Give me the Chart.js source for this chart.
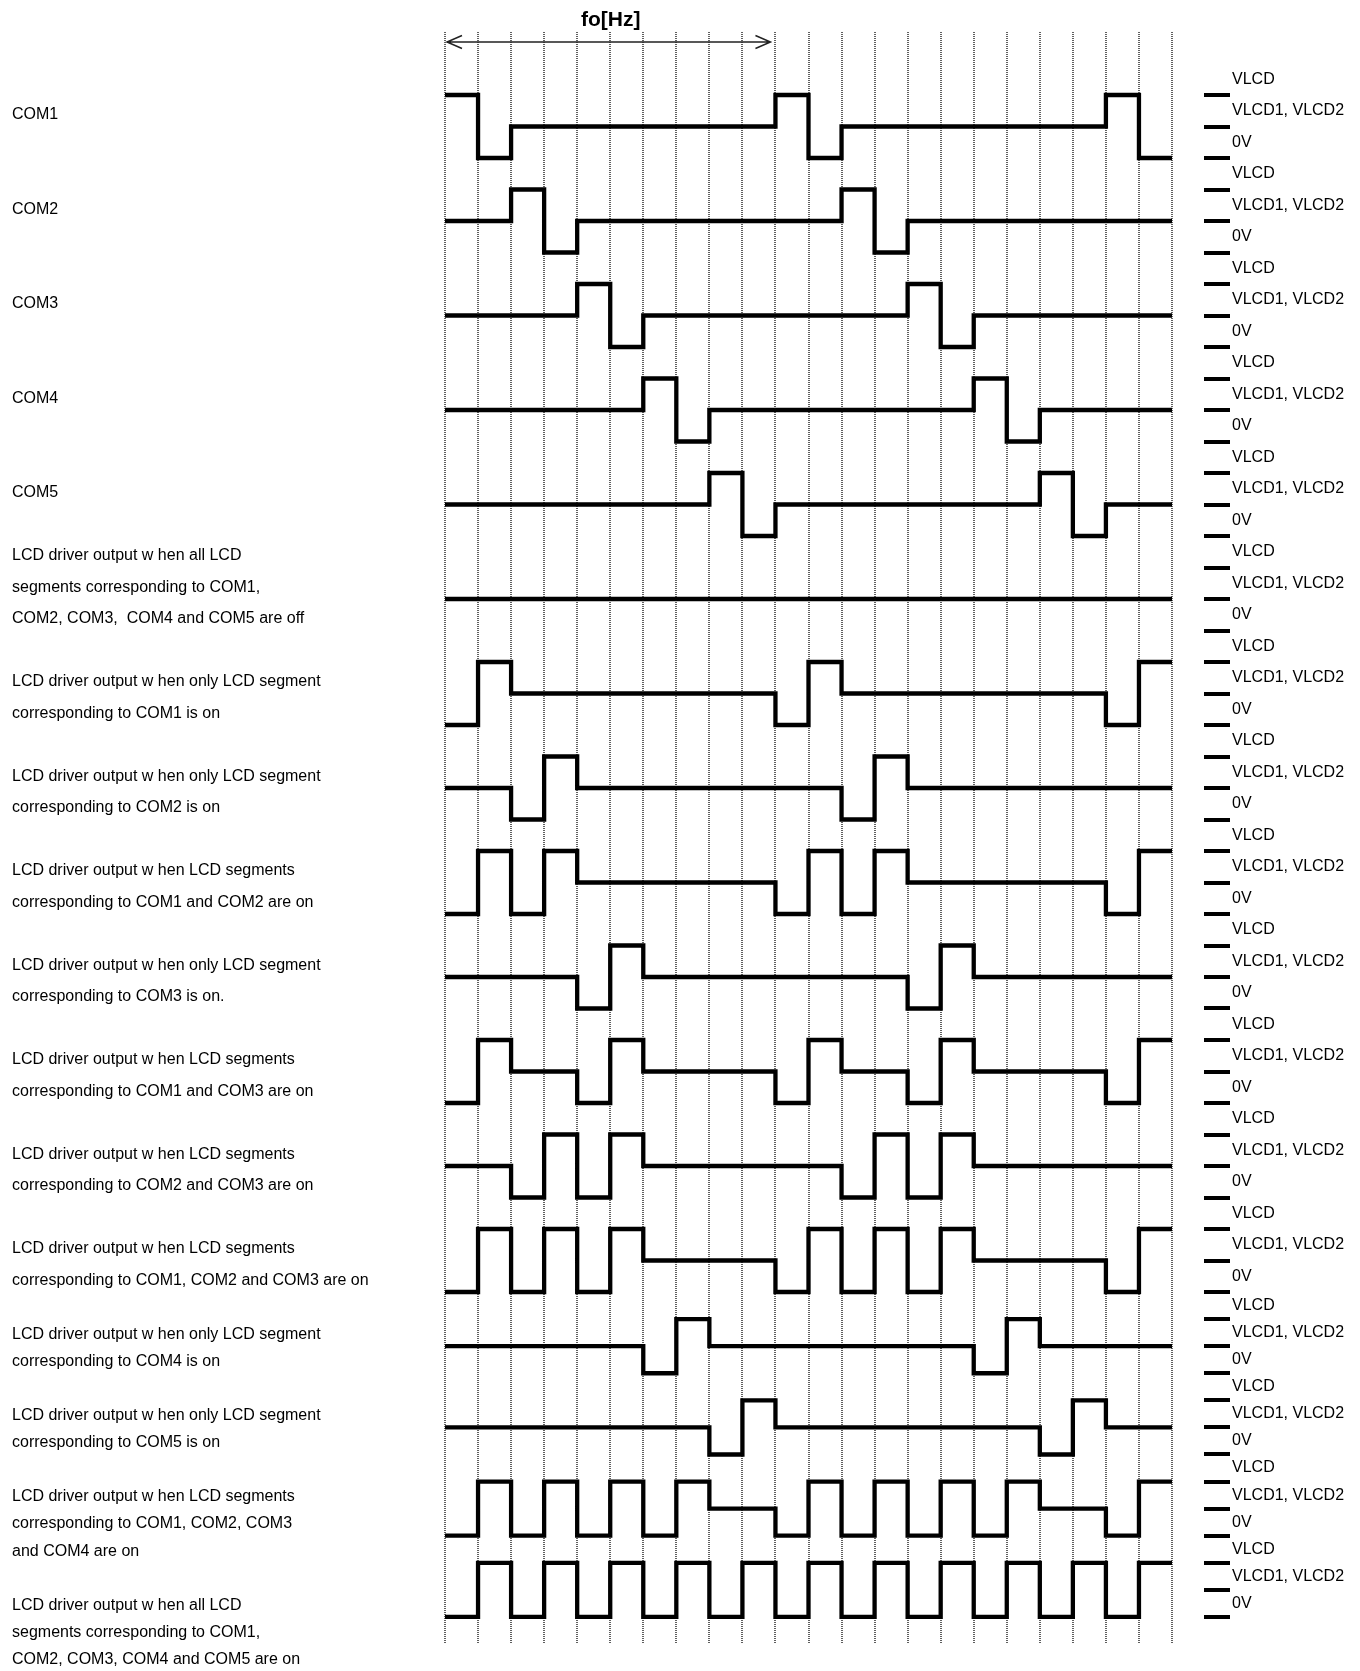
<!DOCTYPE html>
<html>
<head>
<meta charset="utf-8">
<script src="https://cdn.jsdelivr.net/npm/chart.js@4.4.1/dist/chart.umd.min.js"></script>
<style>
  html, body { margin: 0; padding: 0; background: #fff; }
  #wrap { position: relative; width: 1360px; height: 1671px; }
  canvas { position: absolute; left: 0; }
</style>
</head>
<body>
<div id="wrap">
  <canvas id="upper" width="1360" height="1296" style="top:0"></canvas>
  <canvas id="lower" width="1360" height="375" style="top:1296px"></canvas>
</div>
<script>
// one value per half period: 2 = VLCD, 1 = VLCD1/VLCD2, 0 = 0V
const com1 = [2,0,1,1,1,1,1,1,1,1,2,0,1,1,1,1,1,1,1,1,2,0];
const com2 = [1,1,2,0,1,1,1,1,1,1,1,1,2,0,1,1,1,1,1,1,1,1];
const com3 = [1,1,1,1,2,0,1,1,1,1,1,1,1,1,2,0,1,1,1,1,1,1];
const com4 = [1,1,1,1,1,1,2,0,1,1,1,1,1,1,1,1,2,0,1,1,1,1];
const com5 = [1,1,1,1,1,1,1,1,2,0,1,1,1,1,1,1,1,1,2,0,1,1];
const segOff     = [1,1,1,1,1,1,1,1,1,1,1,1,1,1,1,1,1,1,1,1,1,1];
const segCom1    = [0,2,1,1,1,1,1,1,1,1,0,2,1,1,1,1,1,1,1,1,0,2];
const segCom2    = [1,1,0,2,1,1,1,1,1,1,1,1,0,2,1,1,1,1,1,1,1,1];
const segCom12   = [0,2,0,2,1,1,1,1,1,1,0,2,0,2,1,1,1,1,1,1,0,2];
const segCom3    = [1,1,1,1,0,2,1,1,1,1,1,1,1,1,0,2,1,1,1,1,1,1];
const segCom13   = [0,2,1,1,0,2,1,1,1,1,0,2,1,1,0,2,1,1,1,1,0,2];
const segCom23   = [1,1,0,2,0,2,1,1,1,1,1,1,0,2,0,2,1,1,1,1,1,1];
const segCom123  = [0,2,0,2,0,2,1,1,1,1,0,2,0,2,0,2,1,1,1,1,0,2];
const segCom4    = [1,1,1,1,1,1,0,2,1,1,1,1,1,1,1,1,0,2,1,1,1,1];
const segCom5    = [1,1,1,1,1,1,1,1,0,2,1,1,1,1,1,1,1,1,0,2,1,1];
const segCom1234 = [0,2,0,2,0,2,0,2,1,1,0,2,0,2,0,2,0,2,1,1,0,2];
const segAll     = [0,2,0,2,0,2,0,2,0,2,0,2,0,2,0,2,0,2,0,2,0,2];

const levelNames = ['0V', 'VLCD1, VLCD2', 'VLCD'];
const titleText = 'fo[Hz]';
const frameHalfPeriods = 10;

const waves = [com1, com2, com3, com4, com5, segOff, segCom1, segCom2, segCom12,
  segCom3, segCom13, segCom23, segCom123, segCom4, segCom5, segCom1234, segAll];

const rowText = [
  ['COM1'], ['COM2'], ['COM3'], ['COM4'], ['COM5'],
  ['LCD driver output w hen all LCD', 'segments corresponding to COM1,', 'COM2, COM3,  COM4 and COM5 are off'],
  ['LCD driver output w hen only LCD segment', 'corresponding to COM1 is on'],
  ['LCD driver output w hen only LCD segment', 'corresponding to COM2 is on'],
  ['LCD driver output w hen LCD segments', 'corresponding to COM1 and COM2 are on'],
  ['LCD driver output w hen only LCD segment', 'corresponding to COM3 is on.'],
  ['LCD driver output w hen LCD segments', 'corresponding to COM1 and COM3 are on'],
  ['LCD driver output w hen LCD segments', 'corresponding to COM2 and COM3 are on'],
  ['LCD driver output w hen LCD segments', 'corresponding to COM1, COM2 and COM3 are on'],
  ['LCD driver output w hen only LCD segment', 'corresponding to COM4 is on'],
  ['LCD driver output w hen only LCD segment', 'corresponding to COM5 is on'],
  ['LCD driver output w hen LCD segments', 'corresponding to COM1, COM2, COM3', 'and COM4 are on'],
  ['LCD driver output w hen all LCD', 'segments corresponding to COM1,', 'COM2, COM3, COM4 and COM5 are on']
];
// first level slot of each text block (text sits in the cell under it)
const textSlot = [0, 3, 6, 9, 12, 14, 18, 21, 24, 27, 30, 33, 36, 39, 42, 45, 49];

// layout (pixels)
const plotLeft = 445, lastLine = 1172, axisLeft = 1204;
const gridTop = 32, gridBottom = 1643, splitY = 1296, firstSlotY = 95;
const upperStep = 31.5, lowerStep = 27.08;
const splitRow = 13;
const FONT = '"Liberation Sans", Arial, sans-serif';

const nLines = waves[0].length;
const xMax = nLines * (axisLeft - plotLeft) / (lastLine - plotLeft);
const slot38Y = firstSlotY + 38 * upperStep;

Chart.defaults.font.family = FONT;

function range(a, b) { const r = []; for (let i = a; i <= b; i++) r.push(i); return r; }

function rowDataset(r) {
  const w = waves[r].concat([waves[r][waves[r].length - 1]]);
  return {
    data: w.map((lv, i) => ({ x: i, y: 3 * r + 2 - lv })),
    stepped: true,
    borderColor: '#000',
    borderWidth: 4.3,
    borderJoinStyle: 'miter',
    pointRadius: 0,
    fill: false
  };
}

function textPlugin(rows) {
  return {
    id: 'rowText',
    afterDraw(chart) {
      const ctx = chart.ctx, ys = chart.scales.y;
      ctx.save();
      ctx.font = '16px ' + FONT;
      ctx.fillStyle = '#000';
      ctx.textAlign = 'left';
      ctx.textBaseline = 'middle';
      rows.forEach(r => {
        rowText[r].forEach((line, i) => {
          ctx.fillText(line, 12, ys.getPixelForValue(textSlot[r] + i + 1) - 11.7);
        });
      });
      ctx.restore();
    }
  };
}

const periodPlugin = {
  id: 'period',
  afterDraw(chart) {
    const ctx = chart.ctx, xs = chart.scales.x, top = chart.chartArea.top;
    const x0 = xs.getPixelForValue(0) + 2, x1 = xs.getPixelForValue(frameHalfPeriods) - 5;
    const y = top + 10;
    ctx.save();
    ctx.strokeStyle = '#222';
    ctx.lineWidth = 1.5;
    ctx.beginPath();
    ctx.moveTo(x0, y); ctx.lineTo(x1, y);
    ctx.moveTo(x0 + 15, y - 6.5); ctx.lineTo(x0, y); ctx.lineTo(x0 + 15, y + 6.5);
    ctx.moveTo(x1 - 15, y - 6.5); ctx.lineTo(x1, y); ctx.lineTo(x1 - 15, y + 6.5);
    ctx.stroke();
    ctx.font = 'bold 21px ' + FONT;
    ctx.fillStyle = '#000';
    ctx.textAlign = 'center';
    ctx.textBaseline = 'middle';
    ctx.fillText(titleText, (x0 + x1) / 2 + 2, top - 12);
    ctx.restore();
  }
};

function makeChart(canvasId, rows, yMin, yMax, step, pad, extraPlugins) {
  const slots = range(3 * rows[0], 3 * rows[rows.length - 1] + 2);
  return new Chart(document.getElementById(canvasId), {
    type: 'line',
    data: { datasets: rows.map(rowDataset) },
    options: {
      responsive: false,
      animation: false,
      events: [],
      layout: { padding: pad },
      plugins: { legend: { display: false }, tooltip: { enabled: false } },
      scales: {
        x: {
          type: 'linear', min: 0, max: xMax,
          afterBuildTicks: s => { s.ticks = range(0, nLines).map(v => ({ value: v })); },
          afterFit: s => { s.height = 0; s.paddingLeft = 0; s.paddingRight = 0; },
          ticks: { display: false },
          grid: { color: '#606060', lineWidth: 2, drawTicks: false },
          border: { display: false, dash: [1, 1] }
        },
        y: {
          type: 'linear', position: 'right', reverse: true, min: yMin, max: yMax,
          afterBuildTicks: s => { s.ticks = slots.map(v => ({ value: v })); },
          afterFit: s => { s.width = 1360 - axisLeft; s.paddingTop = 0; s.paddingBottom = 0; },
          grid: { drawOnChartArea: false, drawTicks: true, tickLength: 26, lineWidth: 4, tickWidth: 4, tickColor: '#000' },
          border: { display: false },
          ticks: {
            autoSkip: false, padding: 2, labelOffset: -step / 2, color: '#000',
            font: { size: 16, family: FONT },
            callback: v => levelNames[2 - (v % 3)]
          }
        }
      }
    },
    plugins: [textPlugin(rows)].concat(extraPlugins)
  });
}

makeChart('upper', range(0, splitRow - 1),
  (gridTop - firstSlotY) / upperStep, (splitY - firstSlotY) / upperStep,
  upperStep, { left: plotLeft, top: gridTop, right: 0, bottom: 0 }, [periodPlugin]);

makeChart('lower', range(splitRow, waves.length - 1),
  38 + (splitY - slot38Y) / lowerStep, 38 + (gridBottom - slot38Y) / lowerStep,
  lowerStep, { left: plotLeft, top: 0, right: 0, bottom: 1671 - gridBottom }, []);
</script>
</body>
</html>
